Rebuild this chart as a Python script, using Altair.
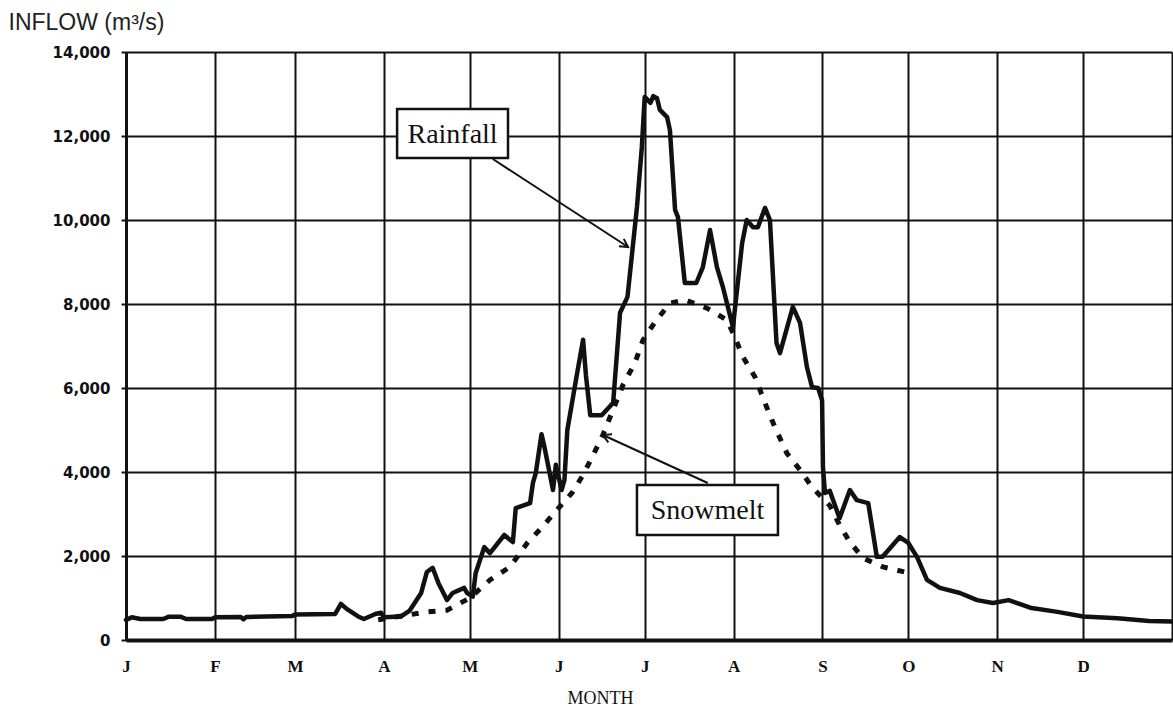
import math
import altair as alt
import pandas as pd

# Month boundaries (day of year) and their axis letters
MONTH_STARTS = [0, 31, 59, 90, 120, 151, 181, 212, 243, 273, 304, 334, 365]
MONTH_LETTERS = ["J", "F", "M", "A", "M", "J", "J", "A", "S", "O", "N", "D", ""]
FLOW_TICKS = [0, 2000, 4000, 6000, 8000, 10000, 12000, 14000]

# Observed inflow including rainfall (day of year, m3/s)
rain_day = [0, 2, 5, 13, 15, 19, 21, 30, 31, 40, 41, 42, 58, 59, 73, 75, 77, 81, 83, 87,
            89, 90, 96, 99, 103, 105, 107, 109, 112, 114, 118, 119, 121, 122, 125, 127,
            132, 135, 136, 141, 142, 143, 145, 146, 149, 150, 152, 153, 154, 156, 157,
            159.5, 160.5, 162, 166, 170, 172.4, 175, 178.3, 180, 181, 183, 184, 185.3,
            186.3, 188.8, 189.8, 191.6, 192.6, 195, 199, 201.3, 203.8, 206.2, 208.3,
            211.8, 215, 216.6, 218.8, 220.5, 223, 224.7, 227, 228.2, 232.7, 235.2, 237.6,
            239.4, 241.5, 242.9, 243.2, 243.9, 245.6, 249, 252.6, 255, 259, 262, 264,
            270, 273, 276, 279.5, 284, 291, 297, 302.5, 308, 311, 316, 325, 334, 346,
            357, 365]
rain_flow = [480, 540, 500, 500, 555, 555, 500, 500, 540, 550, 490, 550, 570, 610, 620, 860,
             740, 560, 500, 620, 650, 540, 560, 700, 1120, 1620, 1720, 1360, 950, 1120,
             1240, 1120, 1030, 1590, 2210, 2070, 2500, 2330, 3140, 3260, 3740, 3980, 4900,
             4600, 3570, 4170, 3570, 3810, 5000, 5790, 6190, 7150, 6300, 5350, 5350, 5650,
             7790, 8170, 10310, 11740, 12930, 12790, 12950, 12900, 12620, 12450, 12140,
             10240, 10070, 8500, 8500, 8880, 9760, 8880, 8400, 7450, 9450, 10000, 9830,
             9830, 10290, 10000, 7070, 6830, 7930, 7550, 6500, 6020, 6000, 5710, 4120,
             3500, 3550, 2900, 3570, 3330, 3260, 1980, 1980, 2450, 2310, 1980, 1430, 1240,
             1120, 950, 880, 950, 880, 760, 670, 560, 520, 450, 440]

# Snowmelt component (day of year, m3/s)
snow_day = [88, 105, 112, 120, 127, 134, 140, 145, 150.4, 155.6, 159.5, 163, 166.4, 173.4,
            177.6, 180.4, 184.6, 189.8, 195, 202.7, 209.7, 211.8, 215.3, 219.5, 223, 226.4,
            230.6, 235.2, 239.4, 245.6, 249, 252.6, 257.2, 264.1, 272.9]
snow_flow = [480, 670, 710, 1000, 1430, 1740, 2310, 2670, 3100, 3500, 3930, 4400, 4880,
             6070, 6600, 7140, 7570, 8020, 8100, 7900, 7620, 7310, 6740, 6260, 5640, 5070,
             4450, 4050, 3640, 3200, 2740, 2330, 1950, 1740, 1600]

# Callout boxes (data units) and the curve points their arrows reach
label_text = ["Rainfall", "Snowmelt"]
box_day = [94.6, 178.3]
box_day2 = [133.3, 227.5]
box_flow = [12643, 3690]
box_flow2 = [11476, 2500]
arrow_from_day = [128, 203]
arrow_from_flow = [11452, 3738]
arrow_to_day = [175.2, 166.4]
arrow_to_flow = [9357, 4881]

W, H = 1046, 588
DAYS, FMAX = 365, 14000

rain = pd.DataFrame({"day": rain_day, "flow": rain_flow})
snow = pd.DataFrame({"day": snow_day, "flow": snow_flow})

kx, ky = W / DAYS, H / FMAX
angles = [math.degrees(math.atan2(-(t1 - f1) * ky, (t0 - f0) * kx)) % 360
          for f0, f1, t0, t1 in zip(arrow_from_day, arrow_from_flow, arrow_to_day, arrow_to_flow)]
notes = pd.DataFrame({
    "label": label_text,
    "x": box_day, "x2": box_day2, "y": box_flow, "y2": box_flow2,
    "cx": [(a + b) / 2 for a, b in zip(box_day, box_day2)],
    "cy": [(a + b) / 2 for a, b in zip(box_flow, box_flow2)],
    "fx": arrow_from_day, "fy": arrow_from_flow,
    "tx": arrow_to_day, "ty": arrow_to_flow,
    "angle": angles,
})

starts_js = "[" + ",".join(str(v) for v in MONTH_STARTS) + "]"
letters_js = "[" + ",".join("'%s'" % s for s in MONTH_LETTERS) + "]"

x_scale = alt.Scale(domain=[0, DAYS], nice=False, zero=False)
y_scale = alt.Scale(domain=[0, FMAX], nice=False)

x_axis = alt.Axis(
    values=MONTH_STARTS,
    labelExpr=f"{letters_js}[indexof({starts_js}, datum.value)]",
    title="MONTH",
    titleFont="Liberation Serif", titleFontSize=18, titleFontWeight="normal",
    titleColor="#111", titleX=474, titleY=58, titleAlign="center", titleBaseline="middle",
    labelFont="Liberation Serif", labelFontSize=17, labelFontWeight="bold",
    labelColor="#111", labelPadding=18, labelAlign="center",
    labelOverlap=False, labelFlush=False,
    ticks=False, grid=True, gridColor="#111", gridWidth=2, gridOpacity=1,
    domainColor="#111", domainWidth=4,
)
y_axis = alt.Axis(
    values=FLOW_TICKS, format=",d",
    title="INFLOW (m³/s)",
    titleFont="Liberation Sans", titleFontSize=23, titleFontWeight="normal",
    titleColor="#222", titleAngle=0, titleX=-118, titleY=-30,
    titleAlign="left", titleBaseline="middle",
    labelFont="DejaVu Sans", labelFontSize=15, labelFontWeight="bold",
    labelColor="#111", labelPadding=11,
    tickSize=5, tickWidth=2, tickColor="#111",
    grid=True, gridColor="#111", gridWidth=2, gridOpacity=1,
    domainColor="#111", domainWidth=3,
)

rain_line = alt.Chart(rain).mark_line(
    color="#111", strokeWidth=4.5, strokeJoin="round", strokeCap="round"
).encode(
    x=alt.X("day:Q", scale=x_scale, axis=x_axis),
    y=alt.Y("flow:Q", scale=y_scale, axis=y_axis),
)

snow_line = alt.Chart(snow).mark_line(
    color="#111", strokeWidth=5, strokeDash=[7, 10], strokeCap="butt"
).encode(x="day:Q", y="flow:Q")

shafts = alt.Chart(notes).mark_rule(color="#111", strokeWidth=2).encode(
    x="fx:Q", y="fy:Q", x2="tx:Q", y2="ty:Q"
)
heads = alt.Chart(notes).mark_point(
    shape="M -1 -0.55 L 0 0 L -1 0.55", filled=False, stroke="#111",
    strokeWidth=2, size=260, opacity=1
).encode(x="tx:Q", y="ty:Q", angle=alt.Angle("angle:Q", scale=None))

boxes = alt.Chart(notes).mark_rect(fill="white", stroke="#111", strokeWidth=2.5).encode(
    x="x:Q", x2="x2:Q", y="y:Q", y2="y2:Q"
)
labels = alt.Chart(notes).mark_text(
    font="Liberation Serif", fontSize=28, color="#111", align="center", baseline="middle", dy=1
).encode(x="cx:Q", y="cy:Q", text="label:N")

chart = alt.layer(rain_line, snow_line, shafts, heads, boxes, labels).properties(
    width=W, height=H,
    padding={"left": 126, "top": 52, "right": 1, "bottom": 71},
    autosize=alt.AutoSizeParams(type="none"),
    background="white",
).configure_view(strokeWidth=0)

chart.save("out.html", embed_options={"renderer": "svg", "actions": False})
